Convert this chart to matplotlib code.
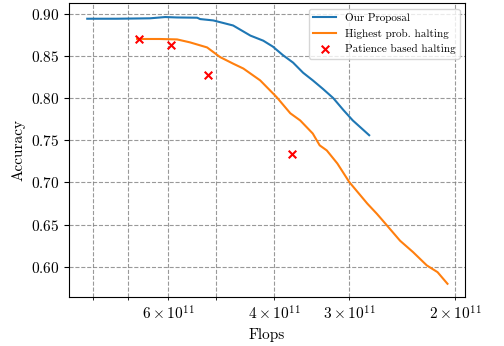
import matplotlib
matplotlib.use('Agg')
import matplotlib.pyplot as plt

plt.rcParams['font.family'] = 'serif'
plt.rcParams['font.serif'] = ['cmr10']
plt.rcParams['mathtext.fontset'] = 'cm'
plt.rcParams['axes.formatter.use_mathtext'] = True

# Our Proposal (flops, accuracy)
proposal_flops = [8.18e11, 7.3e11, 6.43e11, 6.07e11, 5.80e11, 5.37e11, 5.31e11, 5.05e11,
                  4.68e11, 4.38e11, 4.17e11, 4.02e11, 3.87e11, 3.72e11, 3.58e11, 3.45e11,
                  3.32e11, 3.19e11, 3.07e11, 2.96e11, 2.78e11]
proposal_acc = [0.894, 0.894, 0.8945, 0.896, 0.8955, 0.8952, 0.8936, 0.892,
                0.886, 0.874, 0.868, 0.861, 0.851, 0.842, 0.830, 0.821,
                0.811, 0.800, 0.786, 0.7735, 0.756]

# Highest prob. halting
highest_flops = [6.76e11, 6.2e11, 5.80e11, 5.52e11, 5.17e11, 4.92e11, 4.68e11, 4.50e11,
                 4.22e11, 3.96e11, 3.76e11, 3.62e11, 3.45e11, 3.36e11, 3.27e11, 3.14e11,
                 3.00e11, 2.80e11, 2.70e11, 2.64e11, 2.47e11, 2.35e11, 2.23e11, 2.14e11,
                 2.06e11]
highest_acc = [0.870, 0.870, 0.8695, 0.866, 0.860, 0.8486, 0.8408, 0.835,
               0.821, 0.801, 0.782, 0.7735, 0.758, 0.744, 0.738, 0.7225,
               0.7005, 0.675, 0.663, 0.655, 0.631, 0.6175, 0.6018, 0.5938,
               0.580]

# Patience based halting
patience_flops = [6.70e11, 5.93e11, 5.15e11, 3.73e11]
patience_acc = [0.870, 0.8624, 0.8269, 0.734]

fig, ax = plt.subplots(figsize=(5.04, 3.46), dpi=100)
fig.subplots_adjust(left=0.137, right=0.923, bottom=0.142, top=0.991)

ax.plot(proposal_flops, proposal_acc, label='Our Proposal')
ax.plot(highest_flops, highest_acc, label='Highest prob. halting')
ax.scatter(patience_flops, patience_acc, marker='x', color='red', s=30, zorder=3,
           label='Patience based halting')

ax.set_xscale('log')
ax.set_xlim(8.77e11, 1.925e11)
ax.set_ylim(0.5645, 0.9125)

ax.set_xlabel('Flops', fontsize=11)
ax.set_ylabel('Accuracy', fontsize=11)
ax.tick_params(which='both', labelsize=11)
ax.grid(True, which='both', linestyle='--', color='gray', alpha=0.8)
ax.legend(loc='upper right', fontsize=8)

plt.savefig('out.png', dpi=100)
